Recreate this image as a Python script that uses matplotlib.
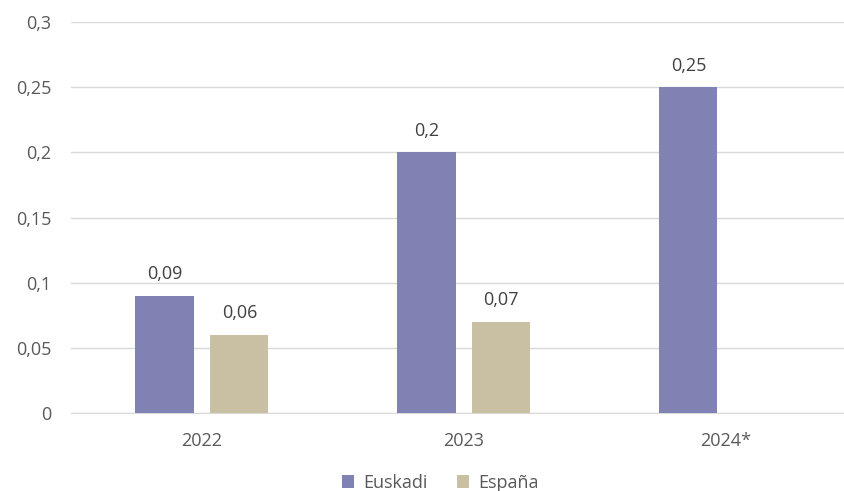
import matplotlib
matplotlib.use('Agg')
import matplotlib.pyplot as plt
import numpy as np
from matplotlib.ticker import FuncFormatter

# Data
years = ['2022', '2023', '2024*']
euskadi = [0.09, 0.20, 0.25]
espana = [0.06, 0.07, None]

c_eus = '#7f82b2'
c_esp = '#c9bfa2'
txt = '#595959'

plt.rcParams['font.family'] = ['Open Sans', 'DejaVu Sans']

fig = plt.figure(figsize=(8.45, 4.91), dpi=100)
# axes runs a little past the right edge, gridlines get clipped by the figure
ax = fig.add_axes([0.084, 0.159, 0.930, 0.796])

x = np.arange(len(years))
w = 0.222
off = 0.143

esp_vals = [np.nan if v is None else v for v in espana]
b1 = ax.bar(x - off, euskadi, w, color=c_eus, label='Euskadi', zorder=3)
b2 = ax.bar(x + off, esp_vals, w, color=c_esp, label='España', zorder=3)

def fmt(v):
    return ('%g' % v).replace('.', ',')

for xi, v in zip(x, euskadi):
    ax.text(xi - off, v + 0.0095, fmt(v), ha='center', va='bottom', fontsize=13, color='#404040')
for xi, v in zip(x, espana):
    if v is not None:
        ax.text(xi + off, v + 0.0095, fmt(v), ha='center', va='bottom', fontsize=13, color='#404040')

ax.set_xlim(-0.5, 2.5)
ax.set_ylim(0, 0.3)
ax.set_yticks(np.arange(0, 0.31, 0.05))
ax.yaxis.set_major_formatter(FuncFormatter(lambda v, p: fmt(round(v, 2))))
ax.set_xticks(x)
ax.set_xticklabels(years)
ax.tick_params(axis='both', length=0, labelsize=13, labelcolor=txt)
ax.tick_params(axis='y', pad=14)
ax.tick_params(axis='x', pad=14)
ax.grid(axis='y', color='#d9d9d9', linewidth=1, zorder=0)
for s in ['top', 'right', 'left']:
    ax.spines[s].set_visible(False)
ax.spines['bottom'].set_color('#d9d9d9')

fig.legend(handles=[b1, b2], loc='lower center', bbox_to_anchor=(0.521, -0.035), ncol=2,
           frameon=False, fontsize=13, handlelength=0.7, handleheight=0.7,
           handletextpad=0.5, columnspacing=1.6, labelcolor=txt)

fig.savefig('out.png', dpi=100)
